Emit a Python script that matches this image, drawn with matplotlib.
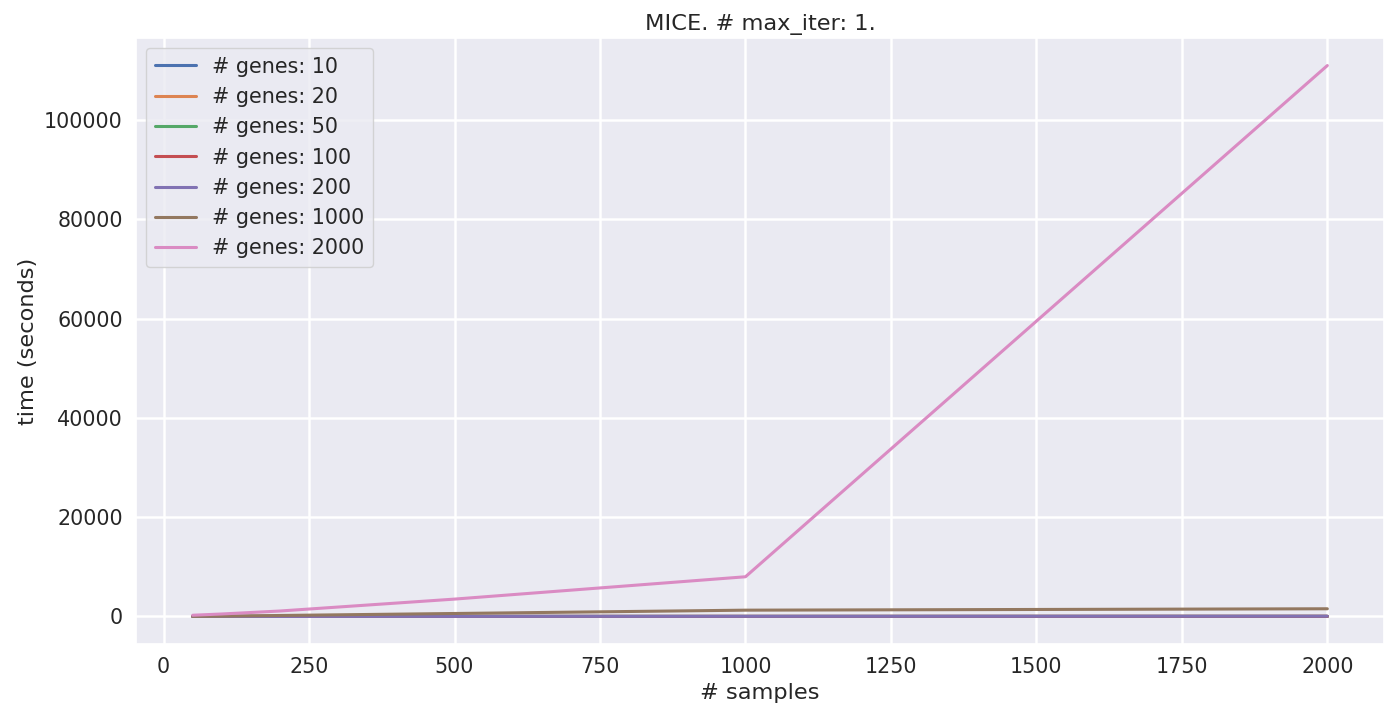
import matplotlib
matplotlib.use("Agg")
import matplotlib.pyplot as plt
import seaborn as sns

sns.set_theme(style="darkgrid", font_scale=1.35,
              rc={"grid.linewidth": 1.8, "lines.linewidth": 2.2})

# runtimes of MICE imputation, one iteration
n_samples = [50, 100, 200, 500, 1000, 2000]
n_genes = [10, 20, 50, 100, 200, 1000, 2000]
times = {
    10: [1, 1, 2, 3, 5, 8],
    20: [1, 2, 3, 5, 8, 12],
    50: [2, 3, 5, 8, 12, 20],
    100: [3, 5, 8, 12, 18, 30],
    200: [5, 8, 12, 20, 30, 50],
    1000: [20, 60, 200, 600, 1270, 1550],
    2000: [250, 500, 1100, 3500, 8000, 111000],
}

fig, ax = plt.subplots(figsize=(13.92, 7.17), dpi=100)
for g in n_genes:
    ax.plot(n_samples, times[g], label=f"# genes: {g}")

ax.set_title("MICE. # max_iter: 1.")
ax.set_xlabel("# samples")
ax.set_ylabel("time (seconds)")
ax.legend(loc="upper left")

fig.subplots_adjust(left=0.0977, right=0.9943, top=0.947, bottom=0.1018)
plt.savefig("out.png")
